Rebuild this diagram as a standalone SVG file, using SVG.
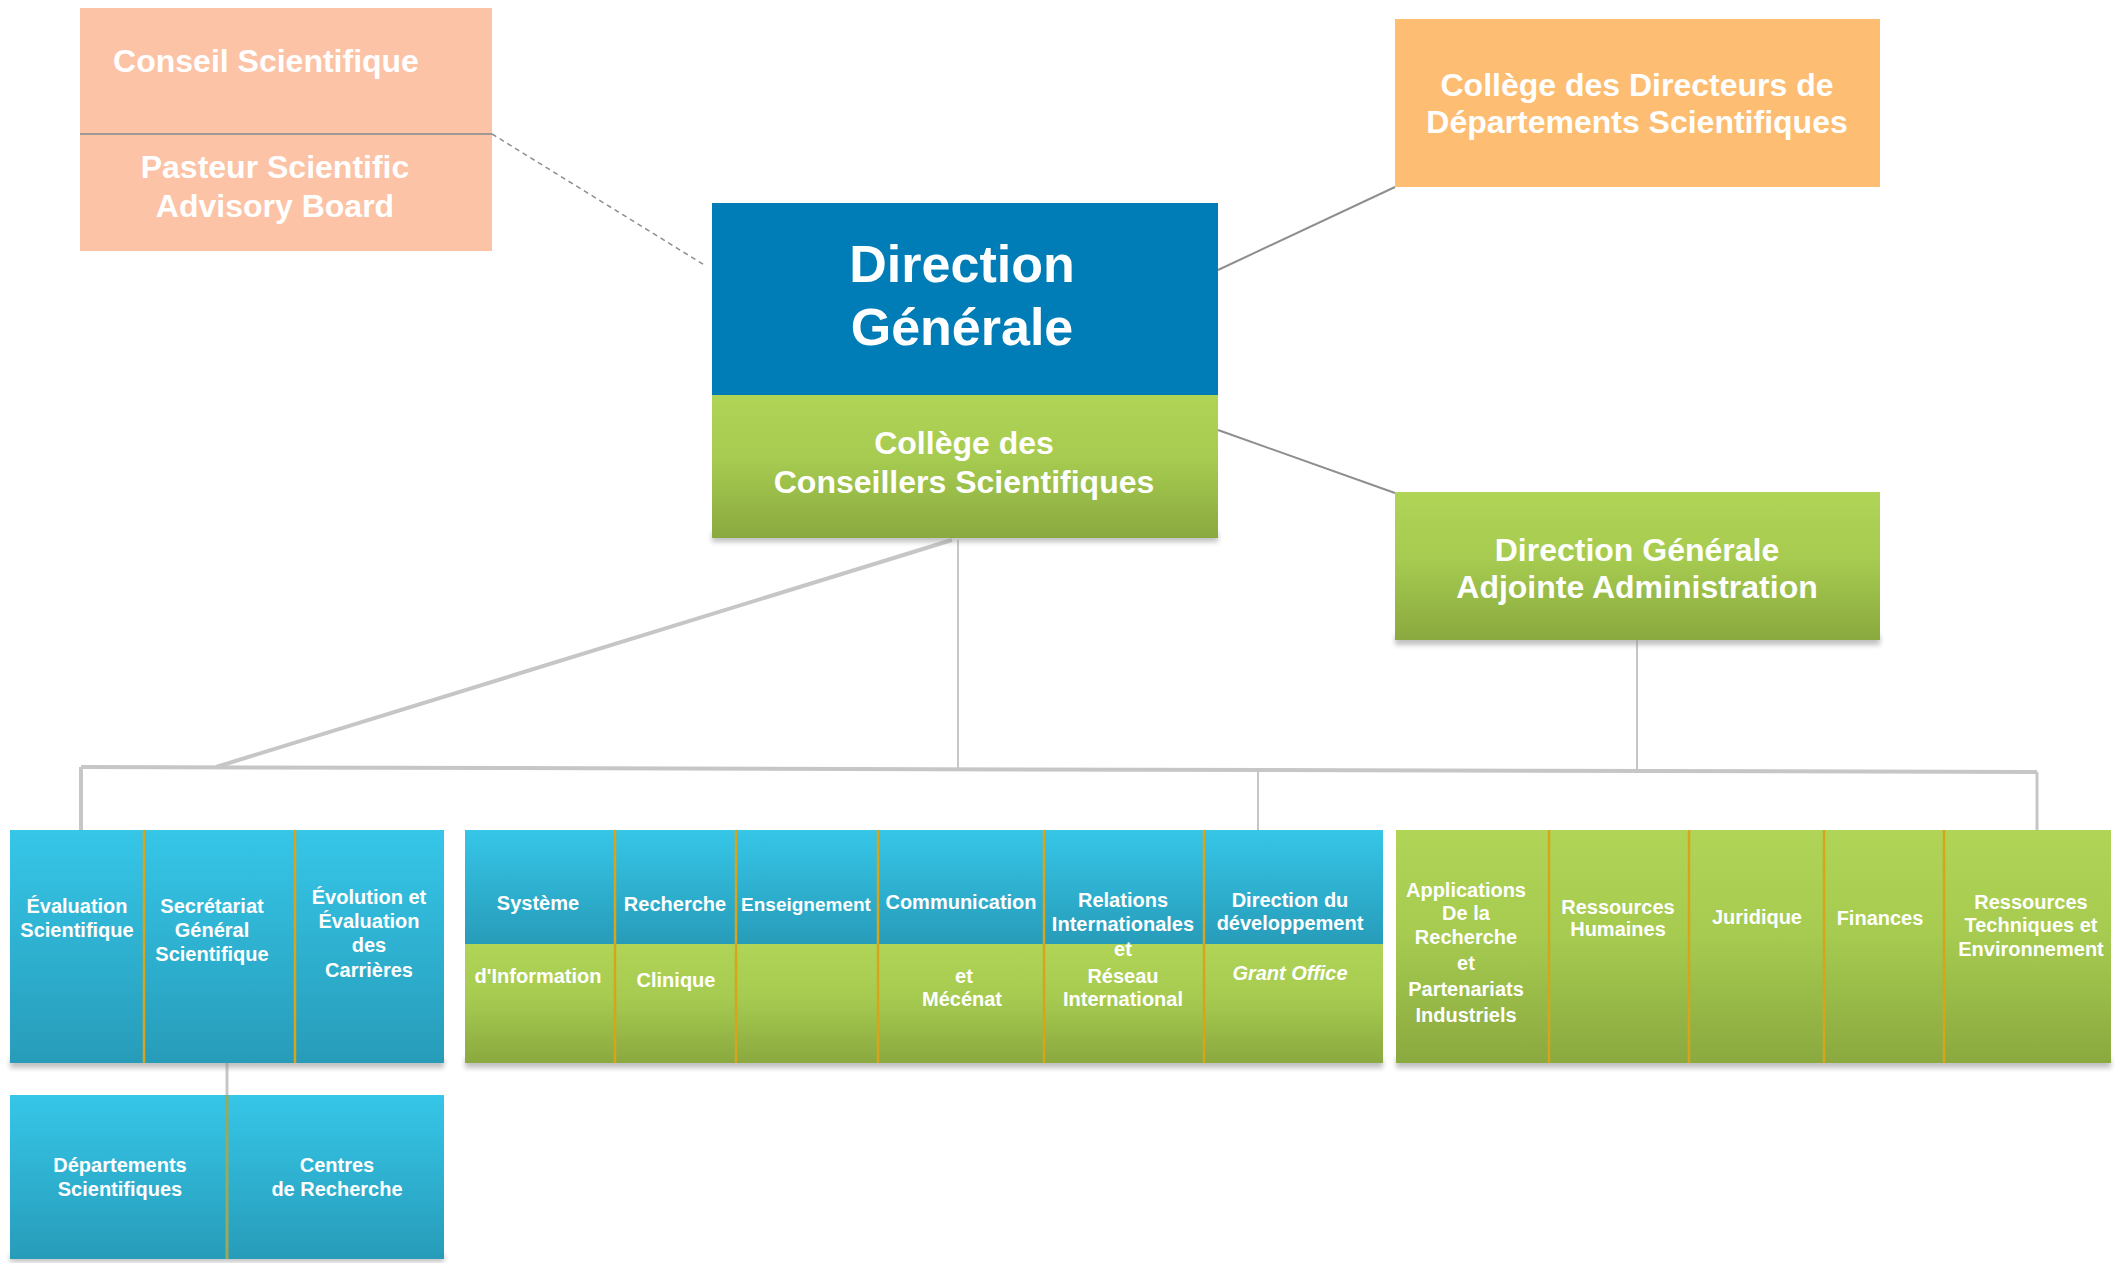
<svg xmlns="http://www.w3.org/2000/svg" width="2122" height="1263" viewBox="0 0 2122 1263">
<defs>
<linearGradient id="gGreen" x1="0" y1="0" x2="0" y2="1"><stop offset="0" stop-color="#B0D456"/><stop offset="0.45" stop-color="#A6CB50"/><stop offset="1" stop-color="#8AA93F"/></linearGradient>
<linearGradient id="gCyan" x1="0" y1="0" x2="0" y2="1"><stop offset="0" stop-color="#36C6E8"/><stop offset="1" stop-color="#279CB9"/></linearGradient>
<filter id="blur" x="-5%" y="-50%" width="110%" height="200%"><feGaussianBlur stdDeviation="2.5"/></filter>
<style>
.t{font-family:"Liberation Sans",Arial,Helvetica,sans-serif;font-weight:bold;fill:#ffffff;text-anchor:middle}
.big{font-size:32px}
.huge{font-size:52px}
.s{font-size:20px}
.s19{font-size:19px}
.it{font-style:italic}
.div{stroke:#D6A51C;stroke-width:2.5;fill:none}
.sh{fill:#8f8f8f;opacity:0.55;filter:url(#blur)}
.con{stroke:#C6C6C6;fill:none}
.dk{stroke:#8E8E8E;fill:none}
</style>
</defs>
<rect width="2122" height="1263" fill="#ffffff"/>

<!-- connectors -->
<g id="connectors">
<path class="dk" d="M492 134 L706 266" stroke-width="1.5" stroke-dasharray="5 4"/>
<path class="dk" d="M1218 270 L1395 187" stroke-width="2"/>
<path class="dk" d="M1218 430 L1395 493" stroke-width="2"/>
<path class="con" d="M958 540 V770" stroke-width="2"/>
<path class="con" d="M952 540 L216 767" stroke-width="4"/>
<path class="con" d="M81 767 L2037 772" stroke-width="4"/>
<path class="con" d="M81 767 V830" stroke-width="4"/>
<path class="con" d="M1258 771 V830" stroke-width="2"/>
<path class="con" d="M1637 640 V771" stroke-width="2"/>
<path class="con" d="M2037 772 V830" stroke-width="3"/>
<path class="con" d="M227 1063 V1095" stroke-width="3"/>
</g>

<!-- top nodes -->
<g id="conseil-scientifique">
<rect x="80" y="8" width="412" height="243" fill="#FCC3A6"/>
<line x1="80" y1="134" x2="492" y2="134" stroke="#A09A96" stroke-width="2"/>
<text class="t big" x="266" y="72">Conseil Scientifique</text>
<text class="t big" x="275" y="178">Pasteur Scientific</text>
<text class="t big" x="275" y="217">Advisory Board</text>
</g>

<g id="college-directeurs">
<rect x="1395" y="19" width="485" height="168" fill="#FDBD72"/>
<text class="t big" x="1637" y="96">Collège des Directeurs de</text>
<text class="t big" x="1637" y="133">Départements Scientifiques</text>
</g>

<g id="direction-generale">
<rect class="sh" x="712" y="532" width="506" height="10"/>
<rect x="712" y="203" width="506" height="192" fill="#007CB7"/>
<rect x="712" y="395" width="506" height="143" fill="url(#gGreen)"/>
<text class="t huge" x="962" y="282">Direction</text>
<text class="t huge" x="962" y="345">Générale</text>
<text class="t big" x="964" y="454">Collège des</text>
<text class="t big" x="964" y="493">Conseillers Scientifiques</text>
</g>

<g id="dga-administration">
<rect class="sh" x="1395" y="635" width="485" height="10"/>
<rect x="1395" y="492" width="485" height="148" fill="url(#gGreen)"/>
<text class="t big" x="1637" y="561">Direction Générale</text>
<text class="t big" x="1637" y="598">Adjointe Administration</text>
</g>

<!-- shadows for strips -->
<rect class="sh" x="10" y="1058" width="434" height="10"/>
<rect class="sh" x="465" y="1058" width="918" height="10"/>
<rect class="sh" x="1396" y="1058" width="715" height="10"/>
<rect class="sh" x="10" y="1254" width="434" height="8"/>

<!-- group A -->
<g id="evaluation-scientifique">
<rect x="10" y="830" width="134" height="233" fill="url(#gCyan)"/>
<text class="t s" x="77" y="913">Évaluation</text>
<text class="t s" x="77" y="937">Scientifique</text>
</g>
<g id="secretariat-general">
<rect x="144" y="830" width="151" height="233" fill="url(#gCyan)"/>
<text class="t s" x="212" y="913">Secrétariat</text>
<text class="t s" x="212" y="937">Général</text>
<text class="t s" x="212" y="961">Scientifique</text>
</g>
<g id="evolution-carrieres">
<rect x="295" y="830" width="149" height="233" fill="url(#gCyan)"/>
<text class="t s" x="369" y="904">Évolution et</text>
<text class="t s" x="369" y="928">Évaluation</text>
<text class="t s" x="369" y="952">des</text>
<text class="t s" x="369" y="977">Carrières</text>
</g>
<line class="div" x1="144" y1="830" x2="144" y2="1063"/>
<line class="div" x1="295" y1="830" x2="295" y2="1063"/>

<!-- group B -->
<g id="systeme-information">
<rect x="465" y="830" width="150" height="114" fill="url(#gCyan)"/>
<rect x="465" y="944" width="150" height="119" fill="url(#gGreen)"/>
<text class="t s" x="538" y="910">Système</text>
<text class="t s" x="538" y="983">d'Information</text>
</g>
<g id="recherche-clinique">
<rect x="615" y="830" width="121" height="114" fill="url(#gCyan)"/>
<rect x="615" y="944" width="121" height="119" fill="url(#gGreen)"/>
<text class="t s" x="675" y="911">Recherche</text>
<text class="t s" x="676" y="987">Clinique</text>
</g>
<g id="enseignement">
<rect x="736" y="830" width="142" height="114" fill="url(#gCyan)"/>
<rect x="736" y="944" width="142" height="119" fill="url(#gGreen)"/>
<text class="t s19" x="806" y="911">Enseignement</text>
</g>
<g id="communication-mecenat">
<rect x="878" y="830" width="166" height="114" fill="url(#gCyan)"/>
<rect x="878" y="944" width="166" height="119" fill="url(#gGreen)"/>
<text class="t s" x="961" y="909">Communication</text>
<text class="t s" x="964" y="983">et</text>
<text class="t s" x="962" y="1006">Mécénat</text>
</g>
<g id="relations-internationales">
<rect x="1044" y="830" width="160" height="114" fill="url(#gCyan)"/>
<rect x="1044" y="944" width="160" height="119" fill="url(#gGreen)"/>
<text class="t s" x="1123" y="907">Relations</text>
<text class="t s" x="1123" y="931">Internationales</text>
<text class="t s" x="1123" y="956">et</text>
<text class="t s" x="1123" y="983">Réseau</text>
<text class="t s" x="1123" y="1006">International</text>
</g>
<g id="direction-developpement">
<rect x="1204" y="830" width="179" height="114" fill="url(#gCyan)"/>
<rect x="1204" y="944" width="179" height="119" fill="url(#gGreen)"/>
<text class="t s" x="1290" y="907">Direction du</text>
<text class="t s" x="1290" y="930">développement</text>
<text class="t s it" x="1290" y="980">Grant Office</text>
</g>
<line class="div" x1="615" y1="830" x2="615" y2="1063"/>
<line class="div" x1="736" y1="830" x2="736" y2="1063"/>
<line class="div" x1="878" y1="830" x2="878" y2="1063"/>
<line class="div" x1="1044" y1="830" x2="1044" y2="1063"/>
<line class="div" x1="1204" y1="830" x2="1204" y2="1063"/>

<!-- group C -->
<g id="applications-recherche">
<rect x="1396" y="830" width="153" height="233" fill="url(#gGreen)"/>
<text class="t s" x="1466" y="897">Applications</text>
<text class="t s" x="1466" y="920">De la</text>
<text class="t s" x="1466" y="944">Recherche</text>
<text class="t s" x="1466" y="970">et</text>
<text class="t s" x="1466" y="996">Partenariats</text>
<text class="t s" x="1466" y="1022">Industriels</text>
</g>
<g id="ressources-humaines">
<rect x="1549" y="830" width="140" height="233" fill="url(#gGreen)"/>
<text class="t s" x="1618" y="914">Ressources</text>
<text class="t s" x="1618" y="936">Humaines</text>
</g>
<g id="juridique">
<rect x="1689" y="830" width="135" height="233" fill="url(#gGreen)"/>
<text class="t s" x="1757" y="924">Juridique</text>
</g>
<g id="finances">
<rect x="1824" y="830" width="120" height="233" fill="url(#gGreen)"/>
<text class="t s" x="1880" y="925">Finances</text>
</g>
<g id="ressources-techniques">
<rect x="1944" y="830" width="167" height="233" fill="url(#gGreen)"/>
<text class="t s" x="2031" y="909">Ressources</text>
<text class="t s" x="2031" y="932">Techniques et</text>
<text class="t s" x="2031" y="956">Environnement</text>
</g>
<line class="div" x1="1549" y1="830" x2="1549" y2="1063"/>
<line class="div" x1="1689" y1="830" x2="1689" y2="1063"/>
<line class="div" x1="1824" y1="830" x2="1824" y2="1063"/>
<line class="div" x1="1944" y1="830" x2="1944" y2="1063"/>

<!-- group D -->
<g id="departements-scientifiques">
<rect x="10" y="1095" width="217" height="164" fill="url(#gCyan)"/>
<text class="t s" x="120" y="1172">Départements</text>
<text class="t s" x="120" y="1196">Scientifiques</text>
</g>
<g id="centres-recherche">
<rect x="227" y="1095" width="217" height="164" fill="url(#gCyan)"/>
<text class="t s" x="337" y="1172">Centres</text>
<text class="t s" x="337" y="1196">de Recherche</text>
</g>
<line x1="227" y1="1095" x2="227" y2="1259" stroke="#9BA95A" stroke-width="3"/>
</svg>
